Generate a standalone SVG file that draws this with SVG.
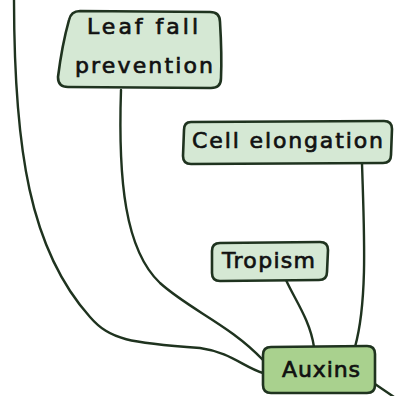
<svg xmlns="http://www.w3.org/2000/svg" width="395" height="396" viewBox="0 0 395 396">
<style>
.box{fill:#d5e8d4;stroke:#1f331f;stroke-width:2.6;stroke-linejoin:round}
.main{fill:#a9d18e}
.lbl{font-family:"DejaVu Sans",sans-serif;font-size:22px;fill:#111;stroke:#111;stroke-width:0.7;text-anchor:start}
.edge{fill:none;stroke:#1f331f;stroke-width:2.4;stroke-linecap:round}
</style>
<rect width="395" height="396" fill="#fff"/>
<g id="connectors">
<path class="edge" d="M14,-2 C14,150 30,250 90,317 C110,340 130,343 200,348 C230,352 245,368 263,373"/>
<path class="edge" d="M121,90 C118,180 125,250 160,283 C190,310 230,325 263,360"/>
<path class="edge" d="M362,163 C364,230 368,300 355,347"/>
<path class="edge" d="M286,280 C295,300 310,320 314,347"/>
<path class="edge" d="M372,382 L397,399"/>
</g>
<g id="leaf-fall-prevention">
<path class="box" d="M80,11 L210,12 Q220,12 220,22 Q222,55 221,78 Q221,88 211,88 L68,87 Q58,87 58,77 Q62,45 69,20 Q71,11 80,11 Z"/>
<text class="lbl" x="87" y="34" textLength="111" lengthAdjust="spacing">Leaf fall</text>
<text class="lbl" x="75" y="73" textLength="138" lengthAdjust="spacing">prevention</text>
</g>
<g id="cell-elongation">
<path class="box" d="M191,122 L384,121 Q392,121 392,129 L391,155 Q391,163 383,163 L191,164 Q183,164 183,156 L184,130 Q184,122 191,122 Z"/>
<text class="lbl" x="192" y="148" textLength="191" lengthAdjust="spacing">Cell elongation</text>
</g>
<g id="tropism">
<path class="box" d="M220,243 L320,242 Q328,242 328,250 L327,272 Q327,280 319,280 L220,281 Q212,281 212,273 L212,251 Q212,243 220,243 Z"/>
<text class="lbl" x="222" y="268" textLength="93" lengthAdjust="spacing">Tropism</text>
</g>
<g id="auxins">
<path class="box main" d="M271,347 L367,346 Q375,346 375,354 L375,385 Q375,393 367,393 L271,393 Q263,393 263,385 L263,355 Q263,347 271,347 Z"/>
<text class="lbl" x="282" y="377" textLength="78" lengthAdjust="spacing">Auxins</text>
</g>
</svg>
